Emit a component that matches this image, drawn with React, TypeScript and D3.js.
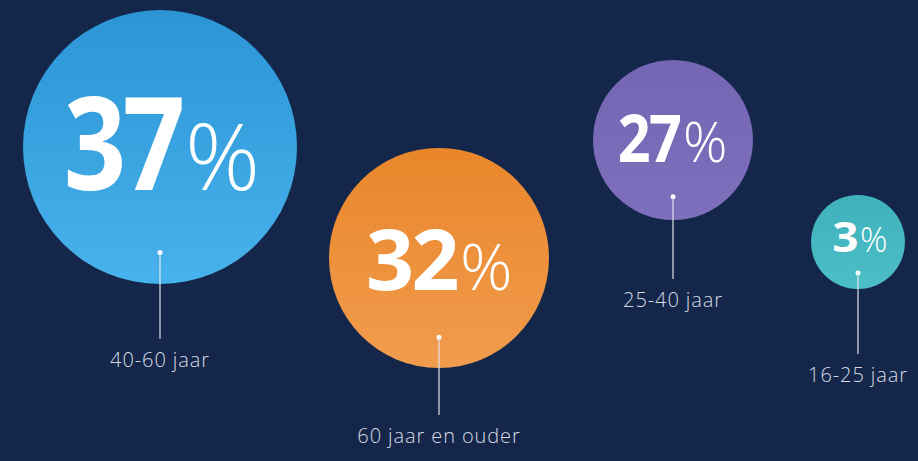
import React from "react";
import * as d3 from "d3";

const categories = ["40-60 jaar", "60 jaar en ouder", "25-40 jaar", "16-25 jaar"];
const values = [37, 32, 27, 3];
const colorsTop = ["#2b95d6", "#e9862a", "#7466b3", "#3fb1bb"];
const colorsBottom = ["#48b2ec", "#f19c4e", "#7d6fbb", "#4cbec6"];

// layout constants
const centersX = [160, 439, 673, 858];
const centersY = [147, 258, 140, 242];
const numberDx = [22, 18, 7, -1];
const numberDy = [43, 32, 22, 10];
const digitSizes = [130, 84, 66, 41];
const digitScaleX = [0.84, 1.0, 0.87, 1.12];
const percentSizes = [93, 65, 55, 34];
const dotFractions = [0.77, 0.72, 0.71, 0.66];
const labelOffsets = [220, 185, 167, 140];

const W = 918;
const H = 461;

export default function App() {
  const rScale = d3.scaleLinear().domain([3, 27, 32, 37]).range([47, 80, 110, 137]);

  return (
    <svg
      width={W}
      height={H}
      style={{ position: "absolute", left: 0, top: 0, display: "block" }}
    >
      <defs>
        {values.map((v, i) => (
          <linearGradient key={i} id={`g${i}`} x1="0" y1="0" x2="0" y2="1">
            <stop offset="0%" stopColor={colorsTop[i]} />
            <stop offset="100%" stopColor={colorsBottom[i]} />
          </linearGradient>
        ))}
      </defs>
      <rect x={0} y={0} width={W} height={H} fill="#14274a" />
      {values.map((v, i) => {
        const r = rScale(v);
        const cx = centersX[i];
        const cy = centersY[i];
        const sx = cx + numberDx[i];
        const by = cy + numberDy[i];
        const dotY = cy + r * dotFractions[i];
        const labelY = cy + labelOffsets[i];
        return (
          <g key={i}>
            <circle cx={cx} cy={cy} r={r} fill={`url(#g${i})`} />
            <g transform={`translate(${sx},${by}) scale(${digitScaleX[i]},1)`}>
              <text
                x={0}
                y={0}
                textAnchor="end"
                fill="#ffffff"
                fontFamily="'Open Sans', sans-serif"
                fontWeight={700}
                fontSize={digitSizes[i]}
                letterSpacing={-digitSizes[i] * 0.03}
              >
                {String(v)}
              </text>
            </g>
            <text
              x={sx + 3}
              y={by}
              textAnchor="start"
              fill="#ffffff"
              fontFamily="'Open Sans', sans-serif"
              fontWeight={300}
              fontSize={percentSizes[i]}
            >
              %
            </text>
            <circle cx={cx} cy={dotY} r={2.5} fill="#ffffff" />
            <line
              x1={cx}
              x2={cx}
              y1={dotY}
              y2={labelY - 28}
              stroke="#dfe3ea"
              strokeWidth={1.2}
            />
            <text
              x={cx}
              y={labelY}
              textAnchor="middle"
              fill="#d6dae3"
              fontFamily="'Open Sans', sans-serif"
              fontWeight={300}
              fontSize={20}
              letterSpacing={0.9}
            >
              {categories[i]}
            </text>
          </g>
        );
      })}
    </svg>
  );
}
